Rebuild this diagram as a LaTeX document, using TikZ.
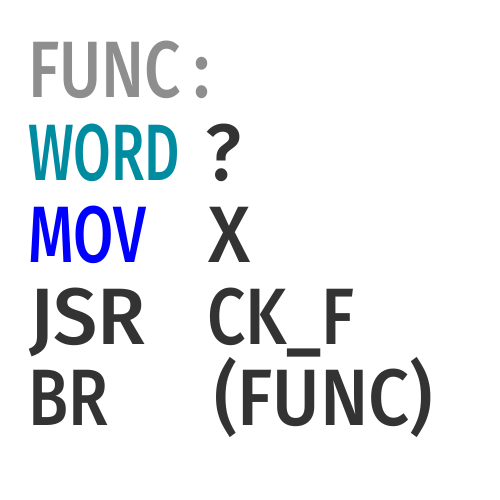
\documentclass[tikz,border=0pt]{standalone}
\usepackage{fontspec}
\usepackage{graphicx}
\setmainfont{Fira Sans Medium}
\definecolor{cgray}{HTML}{8E8E8E}
\definecolor{cteal}{HTML}{008CA0}
\definecolor{cblue}{HTML}{0000FF}
\definecolor{cdark}{HTML}{333333}
\tikzset{
  txt/.style={inner sep=0pt, outer sep=0pt, anchor=base west,
    font=\fontsize{80}{96}\selectfont},
}
\newcommand{\fitw}[2]{\resizebox{#1pt}{\height}{#2}}
\begin{document}
\begin{tikzpicture}[x=1pt,y=-1pt]
\useasboundingbox[fill=white] (0,0) rectangle (500,500);
\node[txt, text=cgray] (w1) at (28,98) {\fitw{153}{FUNC}};
\node[txt, text=cgray] (c1) at (193,98) {\fitw{17}{:}};
\node[txt, text=cteal] (w2) at (28,180) {\fitw{152}{WORD}};
\node[txt, text=cdark] (a2) at (205,180) {\fitw{36}{?}};
\node[txt, text=cblue] (w3) at (28,262) {\fitw{118}{MOV}};
\node[txt, text=cdark] (a3) at (208,262) {\fitw{42}{X}};
\node[txt, text=cdark] (w4) at (29,344) {\fitw{117}{JSR}};
\node[txt, text=cdark] (a4) at (207,344) {\fitw{148}{CK\_F}};
\node[txt, text=cdark] (w5) at (28,425) {\fitw{80}{BR}};
\node[txt, text=cdark] (a5) at (214,425) {\fitw{219}{(FUNC)}};
\end{tikzpicture}
\end{document}
